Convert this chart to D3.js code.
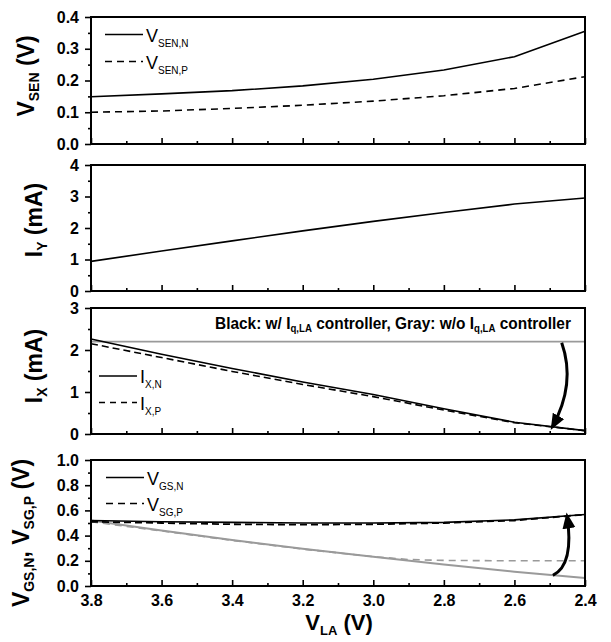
<!DOCTYPE html>
<html>
<head>
<meta charset="utf-8">
<script src="https://cdn.jsdelivr.net/npm/d3@7"></script>
<style>
  body { margin: 0; background: #fff; }
  svg { display: block; font-family: "Liberation Sans", Arial, sans-serif; }
</style>
</head>
<body>
<svg id="chart" width="611" height="642"></svg>
<script>
// ---- Data --------------------------------------------------------------
// Supply voltage sweep V_LA (V)
const vLA = [3.8, 3.6, 3.4, 3.2, 3.0, 2.8, 2.6, 2.4];
const vLAsgpOff = [3.8, 3.6, 3.4, 3.2, 3.0, 2.9, 2.8, 2.6, 2.4];

// Sense voltages (V)
const vSenN = [0.149, 0.158, 0.168, 0.183, 0.204, 0.233, 0.275, 0.355];
const vSenP = [0.100, 0.104, 0.112, 0.122, 0.135, 0.152, 0.175, 0.212];

// I_Y (mA)
const iY = [0.94, 1.27, 1.59, 1.91, 2.21, 2.49, 2.76, 2.95];

// I_X (mA): with controller (black) and without (gray)
const iXN = [2.26, 1.90, 1.56, 1.24, 0.94, 0.60, 0.28, 0.08];
const iXP = [2.15, 1.82, 1.49, 1.18, 0.89, 0.57, 0.27, 0.08];
const iXOff = [2.2, 2.2, 2.2, 2.2, 2.2, 2.2, 2.2, 2.2];

// Gate drive voltages (V): with controller (black) and without (gray)
const vGsN = [0.52, 0.51, 0.505, 0.50, 0.50, 0.505, 0.525, 0.567];
const vSgP = [0.51, 0.50, 0.490, 0.487, 0.49, 0.500, 0.520, 0.567];
const vGsNOff = [0.52, 0.44, 0.365, 0.295, 0.232, 0.170, 0.113, 0.063];
const vSgPOff = [0.51, 0.437, 0.362, 0.293, 0.233, 0.210, 0.203, 0.200, 0.200];

// Axis ticks
const xTicks = [3.8, 3.6, 3.4, 3.2, 3.0, 2.8, 2.6, 2.4];
const xMinor = [3.7, 3.5, 3.3, 3.1, 2.9, 2.7, 2.5];
const ySenTicks = [0.0, 0.1, 0.2, 0.3, 0.4];
const ySenMinor = [0.05, 0.15, 0.25, 0.35];
const yIyTicks = [0, 1, 2, 3, 4];
const yIyMinor = [0.5, 1.5, 2.5, 3.5];
const yIxTicks = [0, 1, 2, 3];
const yIxMinor = [0.5, 1.5, 2.5];
const yVgTicks = [0.0, 0.2, 0.4, 0.6, 0.8, 1.0];
const yVgMinor = [0.1, 0.3, 0.5, 0.7, 0.9];

// Curved arrows (data coordinates): start, control, tip
const arrowIx = { from: [2.466, 2.17], ctrl: [2.425, 1.19], to: [2.493, 0.16] };
const arrowVg = { from: [2.491, 0.085], ctrl: [2.430, 0.17], to: [2.451, 0.56] };

// ---- Layout ------------------------------------------------------------
const svg = d3.select("#chart");
const X0 = 91, X1 = 585;
const x = d3.scaleLinear().domain([3.8, 2.4]).range([X0, X1]);

const BLACK = "#000";
const GRAY = "#9a9a9a";

const defs = svg.append("defs");
defs.append("marker")
  .attr("id", "head")
  .attr("markerUnits", "userSpaceOnUse")
  .attr("viewBox", "0 -7 16 14")
  .attr("markerWidth", 16).attr("markerHeight", 14)
  .attr("refX", 13).attr("refY", 0)
  .attr("orient", "auto")
  .append("path").attr("d", "M0,-6.5L16,0L0,6.5Z").attr("fill", BLACK);

// rich text: parts = [[string, isSub], ...]
function rich(textSel, parts, mainSize, subSize, shift) {
  let inSub = false;
  parts.forEach(([t, sub]) => {
    const ts = textSel.append("tspan").text(t)
      .attr("font-size", sub ? subSize : mainSize);
    if (sub && !inSub) ts.attr("dy", shift);
    if (!sub && inSub) ts.attr("dy", -shift);
    inSub = sub;
  });
  return textSel;
}

function panel(cfg) {
  const y = d3.scaleLinear().domain(cfg.domain).range([cfg.bottom, cfg.top]);
  const g = svg.append("g");

  // y axis: major ticks with labels, minor ticks, both outward
  g.append("g").attr("transform", `translate(${X0},0)`)
    .call(d3.axisLeft(y).tickValues(cfg.yTicks).tickSize(6).tickPadding(6)
      .tickFormat(cfg.fmt))
    .call(a => a.select(".domain").remove())
    .call(a => a.selectAll("line").attr("stroke", BLACK).attr("stroke-width", 1.6))
    .call(a => a.selectAll("text").attr("font-size", 16).attr("font-weight", "bold")
      .attr("fill", BLACK).attr("font-family", '"Liberation Sans", Arial, sans-serif'));
  g.append("g").attr("transform", `translate(${X0},0)`)
    .call(d3.axisLeft(y).tickValues(cfg.yMinor).tickSize(3).tickFormat(""))
    .call(a => a.select(".domain").remove())
    .call(a => a.selectAll("line").attr("stroke", BLACK).attr("stroke-width", 1.6));

  // x axis: ticks pointing into the plot
  g.append("g").attr("transform", `translate(0,${cfg.bottom})`)
    .call(d3.axisBottom(x).tickValues(xTicks).tickSizeInner(-6).tickSizeOuter(0)
      .tickPadding(9).tickFormat(cfg.xLabels ? d3.format(".1f") : ""))
    .call(a => a.select(".domain").remove())
    .call(a => a.selectAll("line").attr("stroke", BLACK).attr("stroke-width", 1.6))
    .call(a => a.selectAll("text").attr("font-size", 16).attr("font-weight", "bold")
      .attr("fill", BLACK).attr("font-family", '"Liberation Sans", Arial, sans-serif'));
  g.append("g").attr("transform", `translate(0,${cfg.bottom})`)
    .call(d3.axisBottom(x).tickValues(xMinor).tickSizeInner(-3).tickSizeOuter(0).tickFormat(""))
    .call(a => a.select(".domain").remove())
    .call(a => a.selectAll("line").attr("stroke", BLACK).attr("stroke-width", 1.6));

  // series
  cfg.series.forEach(s => {
    const pts = s.xs.map((v, i) => [v, s.ys[i]]);
    g.append("path")
      .attr("d", d3.line().x(d => x(d[0])).y(d => y(d[1]))(pts))
      .attr("fill", "none")
      .attr("stroke", s.color)
      .attr("stroke-width", s.width)
      .attr("stroke-dasharray", s.dash || null);
  });

  // frame
  g.append("rect")
    .attr("x", X0).attr("y", cfg.top)
    .attr("width", X1 - X0).attr("height", cfg.bottom - cfg.top)
    .attr("fill", "none").attr("stroke", BLACK).attr("stroke-width", 2);

  // y title (rotated)
  const t = g.append("text")
    .attr("transform", `translate(${cfg.titleX},${cfg.titleY}) rotate(-90)`)
    .attr("text-anchor", "middle").attr("font-weight", "bold").attr("fill", BLACK);
  rich(t, cfg.title, 23, 14, 5);

  // legend
  (cfg.legend || []).forEach(l => {
    g.append("line")
      .attr("x1", l.x).attr("x2", l.x + 38).attr("y1", l.y).attr("y2", l.y)
      .attr("stroke", BLACK).attr("stroke-width", 1.5)
      .attr("stroke-dasharray", l.dash || null);
    const lt = g.append("text").attr("x", l.x + 41).attr("y", l.y + 7)
      .attr("fill", BLACK);
    rich(lt, l.label, 18, 10, 5);
  });

  return { g, y };
}

// Panel 1: V_SEN
panel({
  domain: [0, 0.4], top: 17, bottom: 144,
  yTicks: ySenTicks, yMinor: ySenMinor, fmt: d3.format(".1f"),
  title: [["V", false], ["SEN", true], [" (V)", false]], titleX: 34, titleY: 76,
  series: [
    { xs: vLA, ys: vSenN, color: BLACK, width: 1.6 },
    { xs: vLA, ys: vSenP, color: BLACK, width: 1.6, dash: "7,5" }
  ],
  legend: [
    { x: 105, y: 34.5, label: [["V", false], ["SEN,N", true]] },
    { x: 105, y: 61.5, dash: "7,5", label: [["V", false], ["SEN,P", true]] }
  ]
});

// Panel 2: I_Y
panel({
  domain: [0, 4], top: 165, bottom: 291,
  yTicks: yIyTicks, yMinor: yIyMinor, fmt: d3.format("d"),
  title: [["I", false], ["Y", true], [" (mA)", false]], titleX: 42, titleY: 220,
  series: [
    { xs: vLA, ys: iY, color: BLACK, width: 1.6 }
  ]
});

// Panel 3: I_X
const p3 = panel({
  domain: [0, 3], top: 308, bottom: 434,
  yTicks: yIxTicks, yMinor: yIxMinor, fmt: d3.format("d"),
  title: [["I", false], ["X", true], [" (mA)", false]], titleX: 42, titleY: 366,
  series: [
    { xs: vLA, ys: iXOff, color: GRAY, width: 1.6 },
    { xs: vLA, ys: iXP, color: BLACK, width: 1.6, dash: "7,4" },
    { xs: vLA, ys: iXN, color: BLACK, width: 1.6 }
  ],
  legend: [
    { x: 99, y: 376, label: [["I", false], ["X,N", true]] },
    { x: 99, y: 402.5, dash: "6,5", label: [["I", false], ["X,P", true]] }
  ]
});

// annotation above the gray reference line, fitted to the panel's right side
const note = p3.g.append("text").attr("font-weight", "bold").attr("fill", BLACK);
rich(note, [["Black: w/ I", false], ["q,LA", true], [" controller, Gray: w/o I", false],
            ["q,LA", true], [" controller", false]], 16, 10, 3);
const noteW = note.node().getComputedTextLength();
note.attr("transform", `translate(215,329) scale(${356 / noteW},1)`);

// Panel 4: V_GS,N / V_SG,P
const p4 = panel({
  domain: [0, 1], top: 460, bottom: 586,
  yTicks: yVgTicks, yMinor: yVgMinor, fmt: d3.format(".1f"), xLabels: true,
  title: [["V", false], ["GS,N", true], [", V", false], ["SG,P", true], [" (V)", false]],
  titleX: 29, titleY: 533,
  series: [
    { xs: vLA, ys: vGsNOff, color: GRAY, width: 2 },
    { xs: vLAsgpOff, ys: vSgPOff, color: GRAY, width: 1.6, dash: "7,5" },
    { xs: vLA, ys: vSgP, color: BLACK, width: 1.8, dash: "7,4" },
    { xs: vLA, ys: vGsN, color: BLACK, width: 1.6 }
  ],
  legend: [
    { x: 106, y: 477.5, label: [["V", false], ["GS,N", true]] },
    { x: 106, y: 503.5, dash: "7,5", label: [["V", false], ["SG,P", true]] }
  ]
});

// curved arrows showing the effect of the controller
function arrow(a, y) {
  const p = d3.path();
  p.moveTo(x(a.from[0]), y(a.from[1]));
  p.quadraticCurveTo(x(a.ctrl[0]), y(a.ctrl[1]), x(a.to[0]), y(a.to[1]));
  svg.append("path").attr("d", p.toString())
    .attr("fill", "none").attr("stroke", BLACK).attr("stroke-width", 3)
    .attr("marker-end", "url(#head)");
}
arrow(arrowIx, p3.y);
arrow(arrowVg, p4.y);

// x axis title
const xt = svg.append("text").attr("x", 339).attr("y", 630)
  .attr("text-anchor", "middle").attr("font-weight", "bold").attr("fill", BLACK);
rich(xt, [["V", false], ["LA", true], [" (V)", false]], 22, 13, 5);
</script>
</body>
</html>
